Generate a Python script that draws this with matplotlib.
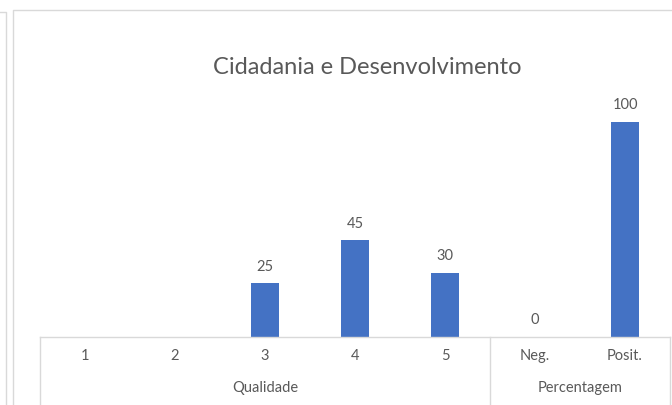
import numpy as np
import matplotlib
matplotlib.use("Agg")
import matplotlib.pyplot as plt
from matplotlib.transforms import blended_transform_factory
from matplotlib.lines import Line2D

matplotlib.rcParams["font.family"] = ["Lato", "DejaVu Sans"]

# data
categories = ["1", "2", "3", "4", "5", "Neg.", "Posit."]
values = [np.nan, np.nan, 25, 45, 30, 0, 100]
groups = ["Qualidade", "Percentagem"]
group_sizes = [5, 2]
title = "Cidadania e Desenvolvimento"

bar_color = "#4472C4"
text_color = "#595959"
line_color = "#d9d9d9"

W, H = 672, 405
fig = plt.figure(figsize=(W / 100, H / 100), dpi=100)

# chart borders (this chart and the edge of a neighbour on the left)
def fig_line(xs, ys, **kw):
    fig.add_artist(Line2D([x / W for x in xs], [1 - y / H for y in ys],
                          transform=fig.transFigure, **kw))

fig_line([12.5, 12.5, 672], [410, 9.5, 9.5], color=line_color, lw=1)
fig_line([0, 5.5, 5.5], [11.5, 11.5, 410], color=line_color, lw=1)

# plot area in pixels
left, right, base, top = 40, 670, 337, 79
ax = fig.add_axes([left / W, 1 - base / H, (right - left) / W, (base - top) / H])

x = np.arange(len(categories))
ax.bar(x, values, width=0.32, color=bar_color)
ax.set_xlim(-0.5, len(categories) - 0.5)
ax.set_ylim(0, 120)
ax.axis("off")

# value labels
for xi, v in zip(x, values):
    if not np.isnan(v):
        ax.annotate("%d" % v, (xi, v), xytext=(0, 7), textcoords="offset points",
                    ha="center", va="bottom", fontsize=10.5, color=text_color)

# baseline
ax.add_line(Line2D([-0.5, len(categories) - 0.5], [0, 0], color=line_color, lw=1,
                   clip_on=False))

# multi-level category axis
trans = blended_transform_factory(ax.transData, ax.transAxes)
px = 1.0 / (base - top)
for xi, c in zip(x, categories):
    ax.text(xi, -19 * px, c, transform=trans, ha="center", va="center",
            fontsize=10.5, color=text_color)

start = -0.5
for g, n in zip(groups, group_sizes):
    ax.add_line(Line2D([start, start], [0, -70 * px], transform=trans,
                       color=line_color, lw=1, clip_on=False))
    ax.text(start + n / 2.0, -51 * px, g, transform=trans, ha="center", va="center",
            fontsize=10.5, color=text_color)
    start += n
ax.add_line(Line2D([start, start], [0, -70 * px], transform=trans,
                   color=line_color, lw=1, clip_on=False))

# title
fig.text(367 / W, 1 - 68 / H, title, ha="center", va="center", fontsize=17,
         color=text_color)

fig.savefig("out.png", dpi=100)
